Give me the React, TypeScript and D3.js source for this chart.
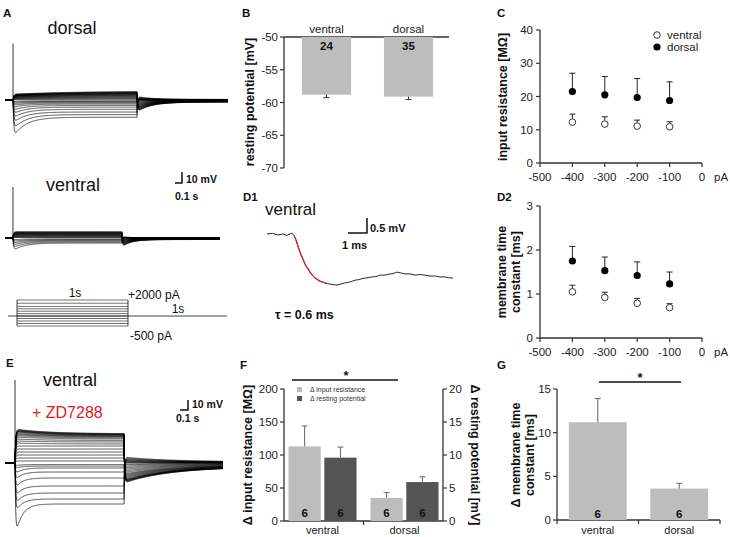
import React from 'react';
import * as d3 from 'd3';

const FONT = '"Liberation Sans", Arial, Helvetica, sans-serif';
const AX = '#333';
const LIGHT = '#bdbdbd';
const DARK = '#555555';

// ---------- Panel B ----------
const bCategories = ['ventral', 'dorsal'];
const bValues = [-58.8, -59.1];
const bErrors = [0.45, 0.45];
const bCounts = [24, 35];
const bTicks = [-50, -55, -60, -65, -70];

// ---------- Panels C / D2 ----------
const currentSteps = [-400, -300, -200, -100];
const pATicks = [-500, -400, -300, -200, -100, 0];
const cVentral = [12.3, 11.7, 11.1, 10.9];
const cVentralErr = [2.4, 2.2, 1.8, 1.5];
const cDorsal = [21.5, 20.5, 19.7, 18.8];
const cDorsalErr = [5.5, 5.5, 5.7, 5.6];
const cTicks = [0, 10, 20, 30, 40];

const dVentral = [1.05, 0.92, 0.79, 0.69];
const dVentralErr = [0.15, 0.12, 0.11, 0.09];
const dDorsal = [1.75, 1.53, 1.42, 1.23];
const dDorsalErr = [0.33, 0.31, 0.31, 0.27];
const dTicks = [0, 1, 2, 3];

// ---------- Panel F ----------
const fCategories = ['ventral', 'dorsal'];
const fInputRes = [113, 35];
const fInputResErr = [31, 8];
const fRestPot = [9.6, 5.9];
const fRestPotErr = [1.6, 0.8];
const fCounts = [6, 6, 6, 6];
const fLeftTicks = [0, 50, 100, 150, 200];
const fRightTicks = [0, 5, 10, 15, 20];

// ---------- Panel G ----------
const gCategories = ['ventral', 'dorsal'];
const gValues = [11.2, 3.6];
const gErr = [2.7, 0.6];
const gCounts = [6, 6];
const gTicks = [0, 5, 10, 15];

// ---------- Traces (mV) ----------
const dorsalPeak = [-31, -24.5, -19, -15, -11.5, -8.5, -6.2, -4.5, -3.1, -2, -1.1,
  0.4, 0.8, 1.2, 1.6, 2, 2.3, 2.6, 2.9, 3.2, 3.4, 3.6, 3.8, 4, 4.2, 4.4, 4.6, 4.8];
const dorsalSteady = [-14.4, -12.2, -10, -7.8, -6, -4.6, -3.4, -2.5, -1.8, -1.2, -0.6,
  0.6, 1.2, 1.8, 2.4, 3.0, 3.5, 4.0, 4.4, 4.8, 5.2, 5.5, 5.8, 6.1, 6.4, 6.7, 7.0, 7.3];
const dorsalTail = [3, 2.5, 2, 1.6, 1.2, 0.9, 0.6, 0.4, 0.2, 0.1, 0,
  -0.8, -1.5, -2.2, -2.9, -3.6, -4.2, -4.8, -5.4, -6, -6.5, -7, -7.5, -8, -8.5, -9, -9.5, -10];

const ventralPeak = [-10.5, -8, -6, -4.3, -2.8, -1.5,
  0.4, 0.8, 1.2, 1.6, 2.0, 2.4, 2.8, 3.1, 3.4, 3.7, 4.0, 4.3, 4.6, 4.9, 5.2];
const ventralSteady = [-4.2, -3.4, -2.6, -1.9, -1.3, -0.7,
  0.4, 0.8, 1.2, 1.6, 2.0, 2.4, 2.8, 3.1, 3.4, 3.7, 4.0, 4.3, 4.6, 4.9, 5.2];
const ventralTail = [1, 0.8, 0.6, 0.4, 0.2, 0.1,
  -0.5, -1, -1.5, -2, -2.5, -3, -3.5, -4, -4.5, -5, -5.5, -6, -6.5, -7, -7.5];

const zdPeak = [-75, -50, -42, -34, -26, -17.5, -11, -5.5, -2.8,
  2, 5, 8, 11, 14, 17, 20, 22, 24, 26, 27.5, 28.5, 29.5, 30.5, 31.5, 32, 32.5, 33, 33.5, 34];
const zdSteady = [-41, -36, -30, -23, -15, -9, -5, -3, -1.5,
  2, 5, 8, 11, 14, 17, 19, 21, 22.5, 24, 25, 26, 26.5, 27, 27.5, 28, 28.3, 28.6, 29, 29.3];
const zdTail = [6, 5, 4.2, 3.5, 2.8, 2, 1.4, 0.8, 0.4,
  -1, -2, -3.5, -5, -6.5, -8, -9.5, -11, -12, -13, -14, -15, -16, -17, -17.5, -18, -18.5, -19, -19.5, -20];

// stimulus protocol levels (pA)
const stimLevels = [-500, -375, -250, -125, 0, 300, 600, 900, 1200, 1600, 2000];

// D1 single trace (ms, mV)
const d1Time = [0, 0.3, 0.6, 0.9, 1.1, 1.39, 1.5, 1.61, 1.72, 1.83, 1.97, 2.11, 2.25, 2.39, 2.53, 2.67, 2.8, 2.94, 3.08, 3.22,
  3.36, 3.5, 3.7, 3.89, 4.1, 4.33, 4.6, 4.89, 5.1, 5.33, 5.6, 5.83, 6.05, 6.28, 6.55, 6.83, 7.0, 7.22, 7.45, 7.67,
  7.95, 8.22, 8.5, 8.78, 9.05, 9.33, 9.6, 9.89, 10.1, 10.33];
const d1Volt = [0, 0.02, -0.03, 0.0, -0.05, 0.03, -0.05, -0.2, -0.4, -0.6, -0.8, -1.0, -1.14, -1.27, -1.38, -1.47, -1.52, -1.57, -1.6, -1.63,
  -1.65, -1.67, -1.69, -1.7, -1.67, -1.63, -1.6, -1.54, -1.52, -1.48, -1.46, -1.43, -1.42, -1.37, -1.37, -1.33, -1.32, -1.27, -1.3, -1.33,
  -1.33, -1.37, -1.35, -1.37, -1.4, -1.4, -1.43, -1.43, -1.46, -1.47];
const d1FitStart = 1.5;
const d1FitEnd = 3.4;

type Opts = { T: number; tauM: number; tauSag: number; tauSagDep: number; tauFast: number; tauTail: number; resid: number; tauSlow: number };

function sweepValue(t: number, peak: number, steady: number, tail: number, o: Opts) {
  if (t < 0) return 0;
  const ts = steady > 0 ? o.tauSagDep : o.tauSag;
  if (t <= o.T) {
    const charge = 1 - Math.exp(-t / o.tauM);
    return (steady + (peak - steady) * Math.exp(-t / ts)) * charge;
  }
  const s = t - o.T;
  const vEnd = steady + (peak - steady) * Math.exp(-o.T / ts);
  const decay = (1 - o.resid) * Math.exp(-s / o.tauTail) + o.resid * Math.exp(-s / o.tauSlow);
  return tail * (1 - Math.exp(-s / o.tauFast)) * decay + vEnd * Math.exp(-s / o.tauFast);
}

function Sweeps(props: {
  peaks: number[]; steadies: number[]; tails: number[];
  x: d3.ScaleLinear<number, number>; y: d3.ScaleLinear<number, number>;
  opts: Opts; spike: number;
}) {
  const { peaks, steadies, tails, x, y, opts, spike } = props;
  const [t0, t1] = x.domain();
  const times = d3.range(t0, t1, 1.5).concat([t1]);
  const line = d3.line<number[]>().x(d => x(d[0])).y(d => y(d[1]));
  return (
    <g>
      {peaks.map((p, i) => {
        const pts = times.map(t => [t, sweepValue(t, p, steadies[i], tails[i], opts)]);
        return <path key={i} d={line(pts) || ''} fill="none" stroke="#000" strokeWidth={0.7} />;
      })}
      <line x1={x(0)} x2={x(0)} y1={y(spike)} y2={y(0)} stroke="#000" strokeWidth={0.8} />
    </g>
  );
}

function Txt(props: any) {
  const { children, ...rest } = props;
  return <text fontFamily={FONT} {...rest}>{children}</text>;
}

function ScatterPanel(props: {
  yTicks: number[]; yDomain: [number, number]; yRange: [number, number];
  ventral: number[]; ventralErr: number[]; dorsal: number[]; dorsalErr: number[];
  legend: boolean;
}) {
  const { yTicks, yDomain, yRange, ventral, ventralErr, dorsal, dorsalErr, legend } = props;
  const x = d3.scaleLinear().domain([-500, 0]).range([540, 702]);
  const y = d3.scaleLinear().domain(yDomain).range(yRange);
  const y0 = yRange[0];
  return (
    <g>
      <line x1={540} x2={540} y1={yRange[1]} y2={y0} stroke={AX} strokeWidth={1.3} />
      <line x1={540} x2={702} y1={y0} y2={y0} stroke={AX} strokeWidth={1.3} />
      {yTicks.map(t => (
        <g key={t}>
          <line x1={536} x2={540} y1={y(t)} y2={y(t)} stroke={AX} strokeWidth={1.2} />
          <Txt x={533} y={y(t)} dy="0.35em" textAnchor="end" fontSize={11.5} fill="#222">{t}</Txt>
        </g>
      ))}
      {pATicks.map(t => (
        <g key={t}>
          <line x1={x(t)} x2={x(t)} y1={y0} y2={y0 + 4} stroke={AX} strokeWidth={1.2} />
          <Txt x={x(t)} y={y0 + 14} dy="0.35em" textAnchor="middle" fontSize={11.5} fill="#222">{t}</Txt>
        </g>
      ))}
      <Txt x={714} y={y0 + 14} dy="0.35em" fontSize={11.5} fill="#222">pA</Txt>
      {currentSteps.map((c, i) => (
        <g key={c}>
          <line x1={x(c)} x2={x(c)} y1={y(dorsal[i])} y2={y(dorsal[i] + dorsalErr[i])} stroke="#222" strokeWidth={1} />
          <line x1={x(c) - 3} x2={x(c) + 3} y1={y(dorsal[i] + dorsalErr[i])} y2={y(dorsal[i] + dorsalErr[i])} stroke="#222" strokeWidth={1} />
          <circle cx={x(c)} cy={y(dorsal[i])} r={3.6} fill="#000" />
          <line x1={x(c)} x2={x(c)} y1={y(ventral[i]) - 3.5} y2={y(ventral[i] + ventralErr[i])} stroke="#222" strokeWidth={1} />
          <line x1={x(c) - 3} x2={x(c) + 3} y1={y(ventral[i] + ventralErr[i])} y2={y(ventral[i] + ventralErr[i])} stroke="#222" strokeWidth={1} />
          <circle cx={x(c)} cy={y(ventral[i])} r={3.3} fill="#fff" stroke="#222" strokeWidth={0.9} />
        </g>
      ))}
      {legend && (
        <g>
          <circle cx={657} cy={35} r={3.3} fill="#fff" stroke="#222" strokeWidth={0.9} />
          <Txt x={667} y={35} dy="0.35em" fontSize={11.5} fill="#222">ventral</Txt>
          <circle cx={657} cy={47} r={3.6} fill="#000" />
          <Txt x={667} y={47} dy="0.35em" fontSize={11.5} fill="#222">dorsal</Txt>
        </g>
      )}
    </g>
  );
}

export default function App() {
  // ----- A dorsal -----
  const xAd = d3.scaleLinear().domain([-65, 1735]).range([5, 228]);
  const yAd = d3.scaleLinear().domain([0, -10]).range([100, 112]);
  const optsAd: Opts = { T: 1000, tauM: 6, tauSag: 100, tauSagDep: 500, tauFast: 5, tauTail: 110, resid: 0.2, tauSlow: 4000 };
  // ----- A ventral -----
  const xAv = d3.scaleLinear().domain([-73, 1899]).range([5, 220]);
  const yAv = d3.scaleLinear().domain([0, -10]).range([238, 250]);
  const optsAv: Opts = { T: 1000, tauM: 6, tauSag: 100, tauSagDep: 500, tauFast: 5, tauTail: 80, resid: 0.2, tauSlow: 4000 };
  // ----- E -----
  const xE = d3.scaleLinear().domain([-92, 1908]).range([5, 223]);
  const yE = d3.scaleLinear().domain([0, -10]).range([463, 473]);
  const optsE: Opts = { T: 1000, tauM: 6, tauSag: 60, tauSagDep: 300, tauFast: 5, tauTail: 400, resid: 0.25, tauSlow: 5000 };

  // stimulus
  const xS = d3.scaleLinear().domain([0, 1000]).range([17, 128]);
  const yS = d3.scaleLinear().domain([-500, 0, 2000]).range([326, 316, 300]);

  // B
  const yB = d3.scaleLinear().domain([-50, -70]).range([37, 168]);
  const xB = d3.scaleBand().domain(bCategories).range([285.5, 449.5]).paddingInner(0.4).paddingOuter(0.2);

  // D1
  const xD1 = d3.scaleLinear().domain([0, 1]).range([267, 285]);
  const yD1 = d3.scaleLinear().domain([0, -1]).range([234, 264]);
  const d1Line = d3.line<number>().x(i => xD1(d1Time[i])).y(i => yD1(d1Volt[i]));
  const allIdx = d1Time.map((_, i) => i);
  const fitIdx = allIdx.filter(i => d1Time[i] >= d1FitStart && d1Time[i] <= d1FitEnd);

  // F
  const yFL = d3.scaleLinear().domain([0, 200]).range([521, 389]);
  const yFR = d3.scaleLinear().domain([0, 20]).range([521, 389]);
  const xF = d3.scaleBand().domain(fCategories).range([284, 443]).paddingInner(0.1).paddingOuter(0.02);
  const xFs = d3.scaleBand().domain(['ir', 'rp']).range([0, xF.bandwidth()]).paddingInner(0.1).paddingOuter(0.08);

  // G
  const yG = d3.scaleLinear().domain([0, 15]).range([520, 389]);
  const xG = d3.scaleBand().domain(gCategories).range([557, 720]).paddingInner(0.29).paddingOuter(0.145);

  const label = (s: string, x: number, y: number) => (
    <Txt x={x} y={y} dy="0.35em" fontSize={11.5} fontWeight="bold" fill="#111">{s}</Txt>
  );

  return (
    <svg width={730} height={537} style={{ position: 'absolute', left: 0, top: 0, background: '#fff' }}>
      <rect width={730} height={537} fill="#fff" />
      {/* ---------- A ---------- */}
      {label('A', 3, 13)}
      <Txt x={72} y={28} dy="0.35em" textAnchor="middle" fontSize={18} fill="#111">dorsal</Txt>
      <Sweeps peaks={dorsalPeak} steadies={dorsalSteady} tails={dorsalTail} x={xAd} y={yAd} opts={optsAd} spike={47} />
      <Txt x={73} y={185} dy="0.35em" textAnchor="middle" fontSize={18} fill="#111">ventral</Txt>
      <Sweeps peaks={ventralPeak} steadies={ventralSteady} tails={ventralTail} x={xAv} y={yAv} opts={optsAv} spike={42.5} />
      {/* scale bar A */}
      <path d="M175,183 H182 V172" fill="none" stroke="#111" strokeWidth={1.5} />
      <Txt x={186} y={179} dy="0.35em" fontSize={10.5} fontWeight="bold" fill="#111">10 mV</Txt>
      <Txt x={175} y={196} dy="0.35em" fontSize={10.5} fontWeight="bold" fill="#111">0.1 s</Txt>
      {/* stimulus protocol */}
      <line x1={8} x2={227} y1={yS(0)} y2={yS(0)} stroke="#111" strokeWidth={0.8} />
      {stimLevels.map(l => (
        <line key={l} x1={xS(0)} x2={xS(1000)} y1={yS(l)} y2={yS(l)} stroke="#111" strokeWidth={0.6} />
      ))}
      <line x1={xS(0)} x2={xS(0)} y1={yS(2000)} y2={yS(-500)} stroke="#111" strokeWidth={0.8} />
      <line x1={xS(1000)} x2={xS(1000)} y1={yS(2000)} y2={yS(-500)} stroke="#111" strokeWidth={0.8} />
      <Txt x={75} y={293} dy="0.35em" textAnchor="middle" fontSize={12} fill="#111">1s</Txt>
      <Txt x={128} y={295} dy="0.35em" fontSize={12} fill="#111">+2000 pA</Txt>
      <Txt x={178} y={309} dy="0.35em" textAnchor="middle" fontSize={12} fill="#111">1s</Txt>
      <Txt x={130} y={336} dy="0.35em" fontSize={12} fill="#111">-500 pA</Txt>

      {/* ---------- B ---------- */}
      {label('B', 242, 13)}
      <line x1={284} x2={284} y1={37} y2={168} stroke={AX} strokeWidth={1.3} />
      <line x1={284} x2={449} y1={37} y2={37} stroke={AX} strokeWidth={1.3} />
      {bTicks.map(t => (
        <g key={t}>
          <line x1={280} x2={284} y1={yB(t)} y2={yB(t)} stroke={AX} strokeWidth={1.2} />
          <Txt x={278} y={yB(t)} dy="0.35em" textAnchor="end" fontSize={11.5} fill="#222">{t}</Txt>
        </g>
      ))}
      {bCategories.map((c, i) => {
        const x0 = xB(c) as number;
        const cx = x0 + xB.bandwidth() / 2;
        return (
          <g key={c}>
            <rect x={x0} y={yB(-50)} width={xB.bandwidth()} height={yB(bValues[i]) - yB(-50)} fill={LIGHT} />
            <line x1={cx} x2={cx} y1={yB(bValues[i])} y2={yB(bValues[i] - bErrors[i])} stroke="#333" strokeWidth={1} />
            <line x1={cx - 3} x2={cx + 3} y1={yB(bValues[i] - bErrors[i])} y2={yB(bValues[i] - bErrors[i])} stroke="#333" strokeWidth={1} />
            <Txt x={cx} y={29} dy="0.35em" textAnchor="middle" fontSize={11.5} fill="#222">{c}</Txt>
            <Txt x={cx} y={46} dy="0.35em" textAnchor="middle" fontSize={11.5} fontWeight="bold" fill="#111">{bCounts[i]}</Txt>
          </g>
        );
      })}
      <Txt transform="translate(250,102) rotate(-90)" textAnchor="middle" dy="0.35em" fontSize={12.5} fontWeight="bold" fill="#111">resting potential [mV]</Txt>

      {/* ---------- C ---------- */}
      {label('C', 497, 13)}
      <ScatterPanel yTicks={cTicks} yDomain={[0, 40]} yRange={[163, 30]} ventral={cVentral} ventralErr={cVentralErr}
        dorsal={cDorsal} dorsalErr={cDorsalErr} legend={true} />
      <Txt transform="translate(503,97) rotate(-90)" textAnchor="middle" dy="0.35em" fontSize={12.5} fontWeight="bold" fill="#111">input resistance [MΩ]</Txt>

      {/* ---------- D1 ---------- */}
      {label('D1', 243, 197)}
      <Txt x={265} y={209} dy="0.35em" fontSize={17} fill="#111">ventral</Txt>
      <path d={d1Line(allIdx) || ''} fill="none" stroke="#111" strokeWidth={0.9} />
      <path d={d1Line(fitIdx) || ''} fill="none" stroke="#d62020" strokeWidth={1.2} />
      <path d="M348,233 H367 V218" fill="none" stroke="#111" strokeWidth={1.5} />
      <Txt x={370} y={228} dy="0.35em" fontSize={11} fontWeight="bold" fill="#111">0.5 mV</Txt>
      <Txt x={342} y={245} dy="0.35em" fontSize={11} fontWeight="bold" fill="#111">1 ms</Txt>
      <Txt x={275} y={315} dy="0.35em" fontSize={12.5} fontWeight="bold" fill="#111">τ = 0.6 ms</Txt>

      {/* ---------- D2 ---------- */}
      {label('D2', 497, 197)}
      <ScatterPanel yTicks={dTicks} yDomain={[0, 3]} yRange={[338, 206]} ventral={dVentral} ventralErr={dVentralErr}
        dorsal={dDorsal} dorsalErr={dDorsalErr} legend={false} />
      <Txt transform="translate(502,272) rotate(-90)" textAnchor="middle" dy="0.35em" fontSize={12.5} fontWeight="bold" fill="#111">membrane time</Txt>
      <Txt transform="translate(516,272) rotate(-90)" textAnchor="middle" dy="0.35em" fontSize={12.5} fontWeight="bold" fill="#111">constant [ms]</Txt>

      {/* ---------- E ---------- */}
      {label('E', 6, 363)}
      <Txt x={70} y={380} dy="0.35em" textAnchor="middle" fontSize={18} fill="#111">ventral</Txt>
      <Txt x={32} y={412} dy="0.35em" fontSize={16} fill="#e3191c">+ ZD7288</Txt>
      <Sweeps peaks={zdPeak} steadies={zdSteady} tails={zdTail} x={xE} y={yE} opts={optsE} spike={83} />
      <path d="M180,410 H188 V400" fill="none" stroke="#111" strokeWidth={1.5} />
      <Txt x={192} y={404} dy="0.35em" fontSize={10.5} fontWeight="bold" fill="#111">10 mV</Txt>
      <Txt x={176} y={418} dy="0.35em" fontSize={10.5} fontWeight="bold" fill="#111">0.1 s</Txt>

      {/* ---------- F ---------- */}
      {label('F', 240, 365)}
      <line x1={292} x2={398} y1={380} y2={380} stroke="#111" strokeWidth={1.5} />
      <Txt x={346} y={375} dy="0.35em" textAnchor="middle" fontSize={13} fontWeight="bold" fill="#111">*</Txt>
      <line x1={284} x2={284} y1={389} y2={521} stroke={AX} strokeWidth={1.3} />
      <line x1={443} x2={443} y1={389} y2={521} stroke={AX} strokeWidth={1.3} />
      <line x1={284} x2={443} y1={521} y2={521} stroke={AX} strokeWidth={1.3} />
      <line x1={363.5} x2={363.5} y1={521} y2={525} stroke={AX} strokeWidth={1.2} />
      {fLeftTicks.map(t => (
        <g key={t}>
          <line x1={280} x2={284} y1={yFL(t)} y2={yFL(t)} stroke={AX} strokeWidth={1.2} />
          <Txt x={278} y={yFL(t)} dy="0.35em" textAnchor="end" fontSize={11.5} fill="#222">{t}</Txt>
        </g>
      ))}
      {fRightTicks.map(t => (
        <g key={t}>
          <line x1={443} x2={447} y1={yFR(t)} y2={yFR(t)} stroke={AX} strokeWidth={1.2} />
          <Txt x={449} y={yFR(t)} dy="0.35em" fontSize={11.5} fill="#222">{t}</Txt>
        </g>
      ))}
      {fCategories.map((c, i) => {
        const g0 = xF(c) as number;
        const xa = g0 + (xFs('ir') as number);
        const xb = g0 + (xFs('rp') as number);
        const w = xFs.bandwidth();
        return (
          <g key={c}>
            <rect x={xa} y={yFL(fInputRes[i])} width={w} height={yFL(0) - yFL(fInputRes[i])} fill={LIGHT} />
            <line x1={xa + w / 2} x2={xa + w / 2} y1={yFL(fInputRes[i])} y2={yFL(fInputRes[i] + fInputResErr[i])} stroke="#666" strokeWidth={1} />
            <line x1={xa + w / 2 - 3} x2={xa + w / 2 + 3} y1={yFL(fInputRes[i] + fInputResErr[i])} y2={yFL(fInputRes[i] + fInputResErr[i])} stroke="#666" strokeWidth={1} />
            <rect x={xb} y={yFR(fRestPot[i])} width={w} height={yFR(0) - yFR(fRestPot[i])} fill={DARK} />
            <line x1={xb + w / 2} x2={xb + w / 2} y1={yFR(fRestPot[i])} y2={yFR(fRestPot[i] + fRestPotErr[i])} stroke="#666" strokeWidth={1} />
            <line x1={xb + w / 2 - 3} x2={xb + w / 2 + 3} y1={yFR(fRestPot[i] + fRestPotErr[i])} y2={yFR(fRestPot[i] + fRestPotErr[i])} stroke="#666" strokeWidth={1} />
            <Txt x={xa + w / 2} y={513} dy="0.35em" textAnchor="middle" fontSize={11.5} fontWeight="bold" fill="#111">{fCounts[i * 2]}</Txt>
            <Txt x={xb + w / 2} y={513} dy="0.35em" textAnchor="middle" fontSize={11.5} fontWeight="bold" fill="#111">{fCounts[i * 2 + 1]}</Txt>
            <Txt x={g0 + xF.bandwidth() / 2} y={530} dy="0.35em" textAnchor="middle" fontSize={11} fill="#222">{c}</Txt>
          </g>
        );
      })}
      <rect x={297} y={387} width={5} height={5} fill={LIGHT} />
      <Txt x={310} y={390} dy="0.35em" fontSize={7} fill="#333">Δ input resistance</Txt>
      <rect x={297} y={396} width={5} height={5} fill={DARK} />
      <Txt x={310} y={399} dy="0.35em" fontSize={7} fill="#333">Δ resting potential</Txt>
      <Txt transform="translate(248,455) rotate(-90)" textAnchor="middle" dy="0.35em" fontSize={12.5} fontWeight="bold" fill="#111">Δ input resistance [MΩ]</Txt>
      <Txt transform="translate(475,455) rotate(90)" textAnchor="middle" dy="0.35em" fontSize={12.5} fontWeight="bold" fill="#111">Δ resting potential [mV]</Txt>

      {/* ---------- G ---------- */}
      {label('G', 497, 365)}
      <line x1={599} x2={681} y1={382} y2={382} stroke="#111" strokeWidth={1.5} />
      <Txt x={640} y={377} dy="0.35em" textAnchor="middle" fontSize={13} fontWeight="bold" fill="#111">*</Txt>
      <line x1={557} x2={557} y1={389} y2={520} stroke={AX} strokeWidth={1.3} />
      <line x1={557} x2={720} y1={520} y2={520} stroke={AX} strokeWidth={1.3} />
      {[557, 638.5, 720].map(v => (
        <line key={v} x1={v} x2={v} y1={520} y2={524} stroke={AX} strokeWidth={1.2} />
      ))}
      {gTicks.map(t => (
        <g key={t}>
          <line x1={553} x2={557} y1={yG(t)} y2={yG(t)} stroke={AX} strokeWidth={1.2} />
          <Txt x={551} y={yG(t)} dy="0.35em" textAnchor="end" fontSize={11.5} fill="#222">{t}</Txt>
        </g>
      ))}
      {gCategories.map((c, i) => {
        const x0 = xG(c) as number;
        const w = xG.bandwidth();
        const cx = x0 + w / 2;
        return (
          <g key={c}>
            <rect x={x0} y={yG(gValues[i])} width={w} height={yG(0) - yG(gValues[i])} fill={LIGHT} />
            <line x1={cx} x2={cx} y1={yG(gValues[i])} y2={yG(gValues[i] + gErr[i])} stroke="#666" strokeWidth={1} />
            <line x1={cx - 3} x2={cx + 3} y1={yG(gValues[i] + gErr[i])} y2={yG(gValues[i] + gErr[i])} stroke="#666" strokeWidth={1} />
            <Txt x={cx} y={514} dy="0.35em" textAnchor="middle" fontSize={11.5} fontWeight="bold" fill="#111">{gCounts[i]}</Txt>
            <Txt x={cx} y={530} dy="0.35em" textAnchor="middle" fontSize={11} fill="#222">{c}</Txt>
          </g>
        );
      })}
      <Txt transform="translate(516,455) rotate(-90)" textAnchor="middle" dy="0.35em" fontSize={12.5} fontWeight="bold" fill="#111">Δ membrane time</Txt>
      <Txt transform="translate(530,455) rotate(-90)" textAnchor="middle" dy="0.35em" fontSize={12.5} fontWeight="bold" fill="#111">constant [ms]</Txt>
    </svg>
  );
}
